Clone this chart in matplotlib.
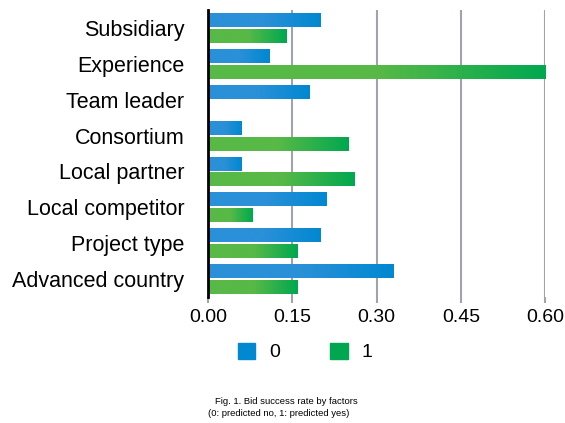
import matplotlib.pyplot as plt
import numpy as np
from matplotlib.patches import Patch

plt.rcParams['font.family'] = ['Liberation Sans', 'DejaVu Sans']

factors = ['Subsidiary', 'Experience', 'Team leader', 'Consortium',
           'Local partner', 'Local competitor', 'Project type', 'Advanced country']
rate0 = [0.20, 0.11, 0.18, 0.06, 0.06, 0.21, 0.20, 0.33]
rate1 = [0.14, 0.60, 0.00, 0.25, 0.26, 0.08, 0.16, 0.16]
xticks = [0.00, 0.15, 0.30, 0.45, 0.60]

blue_l, blue_r = '#2a90d8', '#0088d1'
green_l, green_r = '#58b947', '#00a850'

fig = plt.figure(figsize=(5.65, 4.23), dpi=100)
ax = fig.add_axes([0.368, 0.298, 0.597, 0.678])

y = np.arange(len(factors))
h = 0.39
off = 0.22
b0 = ax.barh(y - off, rate0, height=h, color=blue_r, zorder=3)
b1 = ax.barh(y + off, rate1, height=h, color=green_r, zorder=3)


# light-to-dark gradient inside each bar
def shade(bars, c_left, c_right):
    from matplotlib.colors import LinearSegmentedColormap
    cmap = LinearSegmentedColormap.from_list('g', [c_left, c_left, c_right])
    grad = np.linspace(0, 1, 256).reshape(1, -1)
    for p in bars:
        w = p.get_width()
        if w <= 0:
            continue
        x0, y0 = p.get_x(), p.get_y()
        im = ax.imshow(grad, cmap=cmap, aspect='auto', zorder=4,
                       extent=[x0, x0 + w, y0 + p.get_height(), y0],
                       vmin=0, vmax=1)
        im.set_clip_path(p)


shade(b0, blue_l, blue_r)
shade(b1, green_l, green_r)

ax.set_xlim(0, 0.6)
ax.set_ylim(len(factors) - 0.5, -0.5)
ax.set_yticks(y)
ax.set_yticklabels(factors, fontsize=15.5)
ax.set_xticks(xticks)
ax.set_xticklabels(['%.2f' % t for t in xticks], fontsize=14)
ax.tick_params(axis='y', length=0, pad=17)
ax.tick_params(axis='x', length=4, width=1.5, color='#a0a4a8', pad=5)
ax.xaxis.grid(True, color='#a0a4a8', linewidth=1.5, zorder=0)
for s in ['top', 'right', 'bottom']:
    ax.spines[s].set_visible(False)
ax.spines['left'].set_linewidth(2)
ax.spines['left'].set_color('black')
ax.spines['left'].set_zorder(5)

handles = [Patch(color=blue_r), Patch(color='#00a650')]
fig.legend(handles, ['0', '1'], loc='center left', bbox_to_anchor=(0.421, 0.168),
           ncol=2, frameon=False, fontsize=14, handlelength=0.9, handleheight=0.9,
           columnspacing=2.6, handletextpad=0.7, borderpad=0, borderaxespad=0)

fig.text(0.507, 0.052, 'Fig. 1. Bid success rate by factors', ha='center', va='center', fontsize=6.8)
fig.text(0.494, 0.023, '(0: predicted no, 1: predicted yes)', ha='center', va='center', fontsize=6.8)

fig.savefig('out.png', dpi=100)
